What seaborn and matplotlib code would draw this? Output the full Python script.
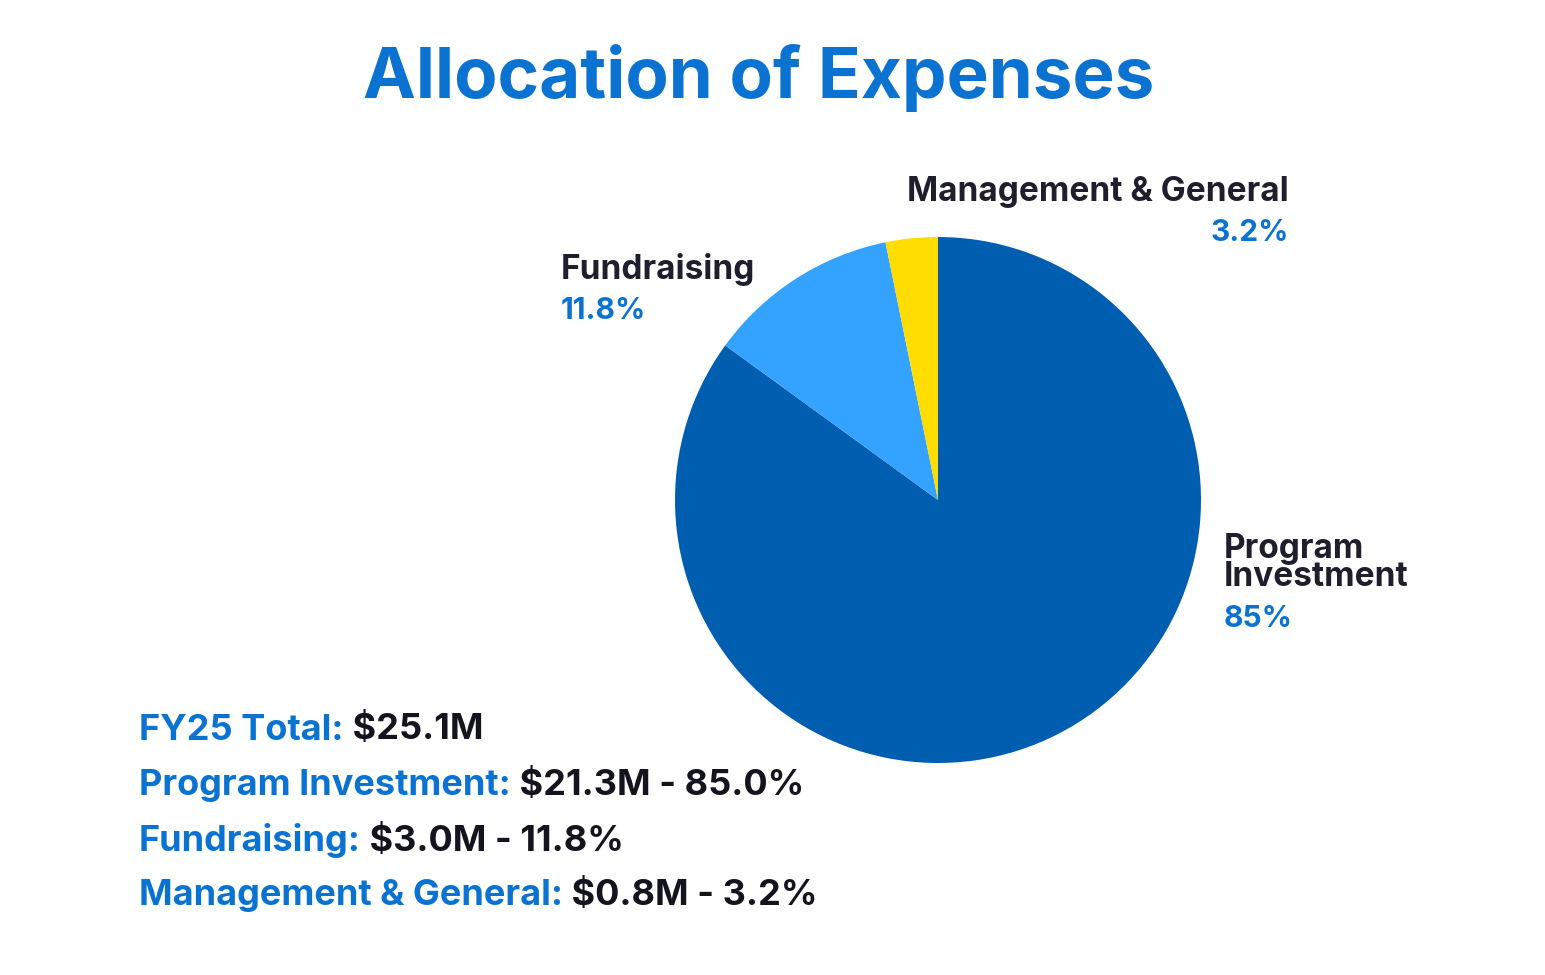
import matplotlib.pyplot as plt
import seaborn as sns
from matplotlib.text import Annotation

# data
categories = ["Program Investment", "Fundraising", "Management & General"]
shares = [85.0, 11.8, 3.2]
amounts = ["$21.3M", "$3.0M", "$0.8M"]
slice_labels = ["85%", "11.8%", "3.2%"]
total_label = "$25.1M"

colors = ["#005EB0", "#33A3FF", "#FFDD00"]
blue_txt = "#0A72D0"
dark_txt = "#1E1E2C"

sns.set_theme(style="white")
plt.rcParams['font.family'] = ['Inter', 'DejaVu Sans']

fig = plt.figure(figsize=(15.45, 9.75), dpi=100)
fig.patch.set_facecolor("white")

# pie axes, centre ~ (938, 500) px, radius ~263 px
W, H = 1545, 975
cx, cy, r = 938, 500, 263
ax = fig.add_axes([(cx - r) / W, (H - cy - r) / H, 2 * r / W, 2 * r / H])
ax.pie(shares, colors=colors, startangle=90, counterclock=False,
       radius=1, wedgeprops=dict(linewidth=0))
ax.set_xlim(-1, 1)
ax.set_ylim(-1, 1)
ax.set_aspect("equal")
ax.axis("off")

def px(x, y):
    return x / W, 1 - y / H

fig.text(*px(759, 78), "Allocation of Expenses", ha="center", va="center",
         fontsize=51, fontweight="bold", color=blue_txt)

# slice labels
fs = 24
pfs = 21.5
fig.text(*px(1289, 192), categories[2], ha="right", va="center", fontsize=fs,
         fontweight="bold", color=dark_txt)
fig.text(*px(1289, 233), slice_labels[2], ha="right", va="center", fontsize=pfs,
         fontweight="bold", color=blue_txt)
fig.text(*px(561, 270), categories[1], ha="left", va="center", fontsize=fs,
         fontweight="bold", color=dark_txt)
fig.text(*px(561, 311), slice_labels[1], ha="left", va="center", fontsize=pfs,
         fontweight="bold", color=blue_txt)
fig.text(*px(1224, 563), "Program\nInvestment", ha="left", va="center", fontsize=fs,
         fontweight="bold", color=dark_txt, linespacing=0.86)
fig.text(*px(1224, 619), slice_labels[0], ha="left", va="center", fontsize=pfs,
         fontweight="bold", color=blue_txt)

# summary block at bottom left
rows = [("FY25 Total:", total_label)]
for c, a, s in zip(categories, amounts, shares):
    rows.append((c + ":", f"{a} - {s:.1f}%"))
ys = [730, 785, 840, 895]
for (lab, val), y in zip(rows, ys):
    t = fig.text(*px(139, y), lab, ha="left", va="center", fontsize=26,
                 fontweight="bold", color=blue_txt)
    # value placed right after the label
    fig.add_artist(Annotation(
        " " + val, xy=(1, 0), xycoords=t, xytext=(0, 0), textcoords="offset points",
        ha="left", va="bottom", fontsize=26, fontweight="bold", color="#14141E"))

fig.savefig("out.png", dpi=100, facecolor="white")
